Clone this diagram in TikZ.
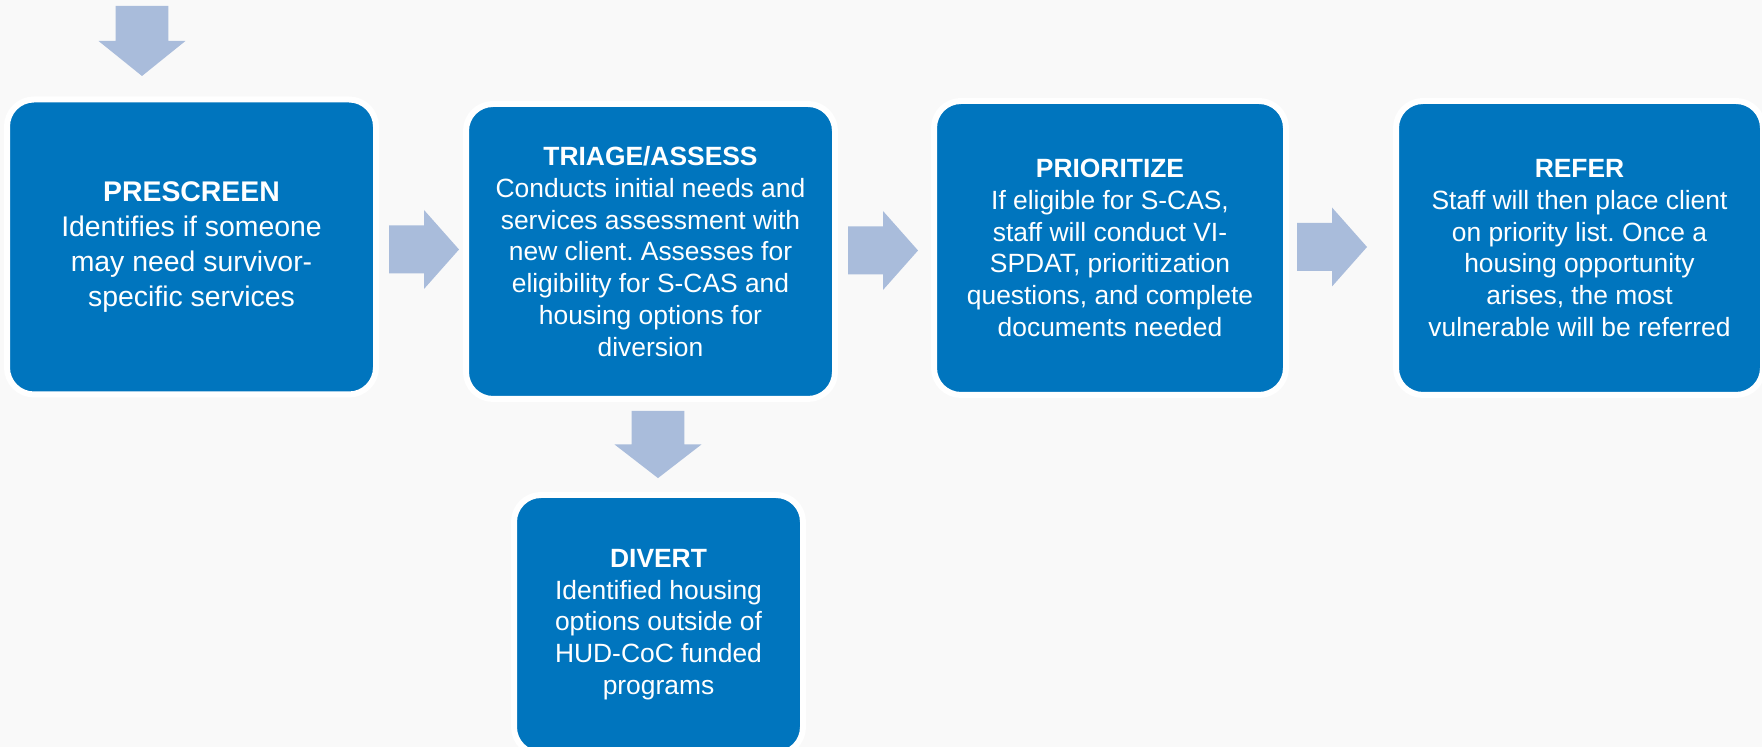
\documentclass[tikz,border=0pt]{standalone}
\usepackage{fontspec}
\setmainfont{Liberation Sans}
\usetikzlibrary{positioning}
\definecolor{StageBlue}{HTML}{0075BE}
\definecolor{ArrowBlue}{HTML}{A9BCDB}
\definecolor{Paper}{HTML}{F9F9F9}
\frenchspacing

\tikzset{
  stage/.style={rectangle, rounded corners=13.5pt, fill=StageBlue, draw=white,
    line width=3pt, text=white, align=center, inner sep=0pt,
    font=\fontsize{13.2}{15.9}\selectfont},
  % block arrow pointing right, centred on its middle
  flowarrow/.pic={
    \fill[ArrowBlue] (-35,-24) -- (0,-24) -- (0,-39.5) -- (35,0)
      -- (0,39.5) -- (0,24) -- (-35,24) -- cycle;
  }
}

\begin{document}
\begin{tikzpicture}[x=0.5pt,y=0.5pt]
  \useasboundingbox (0,0) rectangle (1762,747);
  \fill[Paper] (0,0) rectangle (1762,747);

  % stages
  \node[stage, minimum width=184.5pt, minimum height=147.5pt,
        font=\fontsize{14.2}{17.6}\selectfont] (prescreen) at (191.5,500)
    {\textbf{PRESCREEN}\\Identifies if someone\\may need survivor-\\specific services};
  \node[stage, minimum width=184.5pt, minimum height=147.5pt] (triage) at (650.5,495.5)
    {\textbf{TRIAGE/ASSESS}\\Conducts initial needs and\\services assessment with\\new client. Assesses for\\eligibility for S-CAS and\\housing options for\\diversion};
  \node[stage, minimum width=176pt, minimum height=147pt] (prioritize) at (1110,499)
    {\textbf{PRIORITIZE}\\If eligible for S-CAS,\\staff will conduct VI-\\SPDAT, prioritization\\questions, and complete\\documents needed};
  \node[stage, minimum width=183.5pt, minimum height=147pt] (refer) at (1579.5,499)
    {\textbf{REFER}\\Staff will then place client\\on priority list. Once a\\housing opportunity\\arises, the most\\vulnerable will be referred};
  \node[stage, minimum width=144.5pt, minimum height=129.5pt] (divert) at (658.5,122.5)
    {\textbf{DIVERT}\\Identified housing\\options outside of\\HUD-CoC funded\\programs};

  % arrows between stages
  \pic[rotate=-90, yscale=1.1] at (142,706) {flowarrow};
  \pic at (424,497.5) {flowarrow};
  \pic at (883,496.5) {flowarrow};
  \pic at (1332,500) {flowarrow};
  \pic[rotate=-90, xscale=0.96, yscale=1.1] at (658,302.5) {flowarrow};
\end{tikzpicture}
\end{document}
